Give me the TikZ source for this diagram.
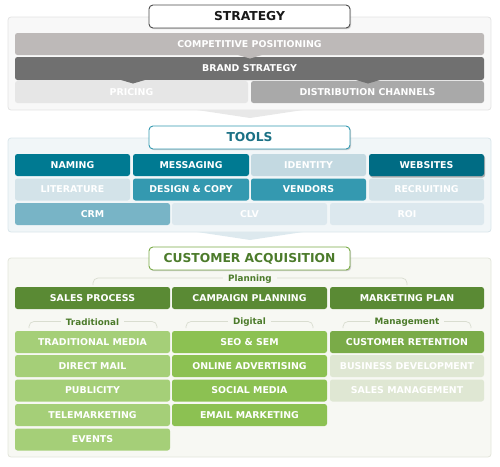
\documentclass[tikz,border=0pt]{standalone}
\usepackage{fontspec}
\setmainfont{DejaVu Sans}
\usetikzlibrary{shadows}
\definecolor{sPanel}{HTML}{F8F8F8}
\definecolor{sPanelB}{HTML}{E4E4E4}
\definecolor{sComp}{HTML}{BDB9B8}
\definecolor{sBrand}{HTML}{707070}
\definecolor{sPrice}{HTML}{E6E6E6}
\definecolor{sDist}{HTML}{A9A9A9}
\definecolor{sArrow}{HTML}{E8E8E8}
\definecolor{tPanel}{HTML}{F1F6F8}
\definecolor{tPanelB}{HTML}{DAE6EB}
\definecolor{tDark}{HTML}{007A92}
\definecolor{tWeb}{HTML}{006C84}
\definecolor{tMid}{HTML}{3499B0}
\definecolor{tCrm}{HTML}{78B4C6}
\definecolor{tLight}{HTML}{C3D9E1}
\definecolor{tLighter}{HTML}{D3E3E9}
\definecolor{tPale}{HTML}{DCE8EE}
\definecolor{tTitle}{HTML}{1B7185}
\definecolor{tArrow}{HTML}{DDE9EE}
\definecolor{cPanel}{HTML}{F7F8F3}
\definecolor{cPanelB}{HTML}{E2E5DA}
\definecolor{cDark}{HTML}{5A8A34}
\definecolor{cTrad}{HTML}{A5CF78}
\definecolor{cDig}{HTML}{8CC152}
\definecolor{cRet}{HTML}{7AAB48}
\definecolor{cPale}{HTML}{DFE7D3}
\definecolor{cTitle}{HTML}{4C7B2B}
\definecolor{cLine}{HTML}{D9DDD0}
\tikzset{
  panel/.style={rounded corners=3pt, line width=0.8pt},
  bar/.style={rounded corners=2.5pt, text=white, font=\fontsize{9.4}{10}\selectfont\bfseries,
    inner sep=0pt, minimum height=22pt, anchor=center},
  titlebox/.style={rounded corners=4pt, fill=white, line width=0.9pt, minimum width=201pt,
    minimum height=23pt, inner sep=0pt, font=\fontsize{12.3}{13}\selectfont\bfseries,
    drop shadow={shadow xshift=1.2pt, shadow yshift=-1.2pt, opacity=0.35}},
  grouplabel/.style={fill=cPanel, text=cTitle, inner xsep=5pt, inner ysep=1pt,
    font=\fontsize{8.8}{10}\selectfont\bfseries},
  bracket/.style={draw=cLine, line width=0.7pt, rounded corners=5pt},
}
\begin{document}
\begin{tikzpicture}[x=1pt,y=-1pt]
\useasboundingbox (0,0) rectangle (500,466);
% ---------- STRATEGY ----------
\draw[panel, fill=sPanel, draw=sPanelB] (8,17) rectangle (491,110);
\node[bar, fill=sComp, minimum width=469pt] (comp) at (249.5,44) {COMPETITIVE POSITIONING};
\node[bar, fill=sBrand, minimum width=469pt, minimum height=23pt] (brand) at (249.5,68.5) {BRAND STRATEGY};
\node[bar, fill=sPrice, minimum width=233pt] (pricing) at (131.5,92) {PRICING};
\node[bar, fill=sDist, minimum width=233pt] (dist) at (367.5,92) {DISTRIBUTION CHANNELS};
\fill[sComp] (238,55) -- (262,55) -- (250,58.5) -- cycle;
\fill[sBrand] (121,80) -- (145,80) -- (133,83.5) -- cycle;
\fill[sBrand] (356,80) -- (380,80) -- (368,83.5) -- cycle;
\node[titlebox, draw=black!70, text=black!90] (strategy) at (249.5,16.5) {STRATEGY};
\fill[sArrow] (197,110) -- (303,110) -- (250,118) -- cycle;
% ---------- TOOLS ----------
\draw[panel, fill=tPanel, draw=tPanelB] (8,138) rectangle (491,232);
\node[bar, fill=tDark, minimum width=115pt] (naming) at (72.5,165) {NAMING};
\node[bar, fill=tDark, minimum width=116pt] (messaging) at (191,165) {MESSAGING};
\node[bar, fill=tLight, minimum width=115pt] (identity) at (308.5,165) {IDENTITY};
\node[bar, fill=tWeb, minimum width=115pt,
  drop shadow={shadow xshift=1pt, shadow yshift=-1.5pt, opacity=0.6}] (websites) at (426.5,165) {WEBSITES};
\node[bar, fill=tLighter, minimum width=115pt] (literature) at (72.5,189.5) {LITERATURE};
\node[bar, fill=tMid, minimum width=116pt] (design) at (191,189.5) {DESIGN \& COPY};
\node[bar, fill=tMid, minimum width=115pt] (vendors) at (308.5,189.5) {VENDORS};
\node[bar, fill=tLighter, minimum width=115pt] (recruiting) at (426.5,189.5) {RECRUITING};
\node[bar, fill=tCrm, minimum width=155pt] (crm) at (92.5,214) {CRM};
\node[bar, fill=tPale, minimum width=155pt] (clv) at (249.5,214) {CLV};
\node[bar, fill=tPale, minimum width=154pt] (roi) at (407,214) {ROI};
\node[titlebox, draw=tMid, text=tTitle] (tools) at (249.5,137.5) {TOOLS};
\fill[tArrow] (197,232) -- (303,232) -- (250,240) -- cycle;
% ---------- CUSTOMER ACQUISITION ----------
\draw[panel, fill=cPanel, draw=cPanelB] (8,258) rectangle (491,457);
\node[titlebox, draw=cRet, text=cTitle] (cust) at (249.5,258.5) {CUSTOMER ACQUISITION};
\draw[bracket] (93,285) -- (93,278) -- (407,278) -- (407,285);
\node[grouplabel] (planning) at (250,279) {Planning};
\node[bar, fill=cDark, minimum width=155pt] (sales) at (92.5,298) {SALES PROCESS};
\node[bar, fill=cDark, minimum width=155pt] (campaign) at (249.5,298) {CAMPAIGN PLANNING};
\node[bar, fill=cDark, minimum width=154pt] (mplan) at (407,298) {MARKETING PLAN};
\draw[bracket] (29,328) -- (29,321.5) -- (157,321.5) -- (157,328);
\draw[bracket] (186,328) -- (186,321.5) -- (313,321.5) -- (313,328);
\draw[bracket] (343,328) -- (343,321.5) -- (471,321.5) -- (471,328);
\node[grouplabel] (trad) at (92.5,322.5) {Traditional};
\node[grouplabel] (digital) at (249.5,322.5) {Digital};
\node[grouplabel] (mgmt) at (407,322.5) {Management};
% traditional
\node[bar, fill=cTrad, minimum width=155pt] (tmedia) at (92.5,342) {TRADITIONAL MEDIA};
\node[bar, fill=cTrad, minimum width=155pt] (dmail) at (92.5,366) {DIRECT MAIL};
\node[bar, fill=cTrad, minimum width=155pt] (publicity) at (92.5,390.5) {PUBLICITY};
\node[bar, fill=cTrad, minimum width=155pt] (tele) at (92.5,415) {TELEMARKETING};
\node[bar, fill=cTrad, minimum width=155pt] (events) at (92.5,439.5) {EVENTS};
% digital
\node[bar, fill=cDig, minimum width=155pt] (seo) at (249.5,342) {SEO \& SEM};
\node[bar, fill=cDig, minimum width=155pt] (online) at (249.5,366) {ONLINE ADVERTISING};
\node[bar, fill=cDig, minimum width=155pt] (social) at (249.5,390.5) {SOCIAL MEDIA};
\node[bar, fill=cDig, minimum width=155pt] (email) at (249.5,415) {EMAIL MARKETING};
% management
\node[bar, fill=cRet, minimum width=154pt] (retention) at (407,342) {CUSTOMER RETENTION};
\node[bar, fill=cPale, minimum width=154pt] (bizdev) at (407,366) {BUSINESS DEVELOPMENT};
\node[bar, fill=cPale, minimum width=154pt] (salesmgmt) at (407,390.5) {SALES MANAGEMENT};
\end{tikzpicture}
\end{document}
